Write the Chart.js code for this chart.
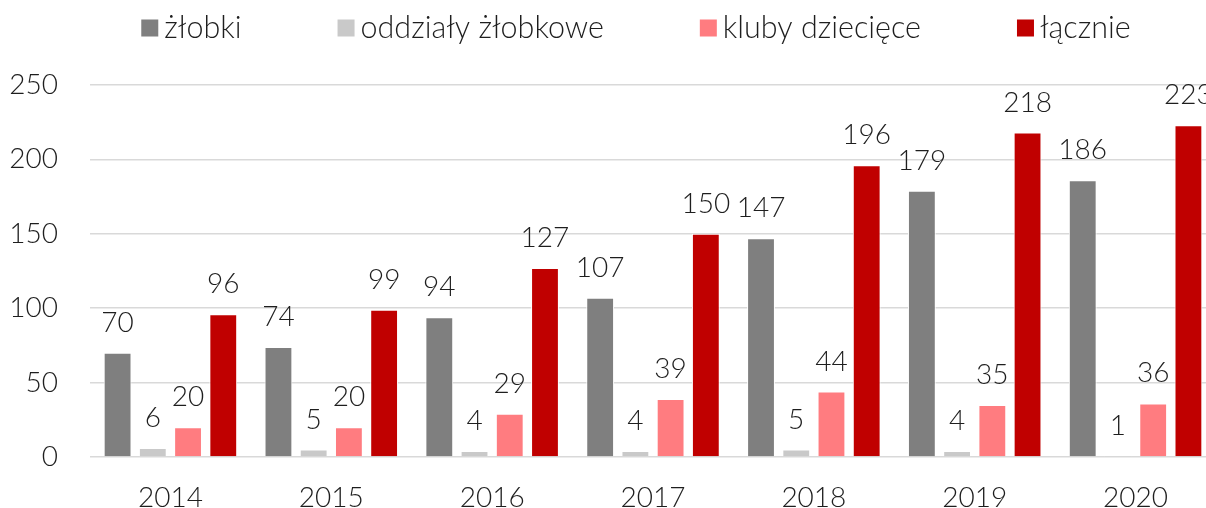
<!DOCTYPE html>
<html>
<head>
<meta charset="utf-8">
<script src="https://cdn.jsdelivr.net/npm/chart.js@4"></script>
<style>
    html, body { margin: 0; padding: 0; background: #fff; overflow: hidden; }
    #wrap { width: 1206px; height: 508px; overflow: hidden; }
</style>
</head>
<body>
<div id="wrap"><canvas id="nurseryChart" width="1216" height="508"></canvas></div>
<script>
const years = ['2014', '2015', '2016', '2017', '2018', '2019', '2020'];
const zlobki = [70, 74, 94, 107, 147, 179, 186];
const oddzialy = [6, 5, 4, 4, 5, 4, 1];
const kluby = [20, 20, 29, 39, 44, 35, 36];
const lacznie = [96, 99, 127, 150, 196, 218, 223];
const seriesNames = ['żłobki', 'oddziały żłobkowe', 'kluby dziecięce', 'łącznie'];
const yTicks = [0, 50, 100, 150, 200, 250];

const colors = ['#7f7f7f', '#c9c9c9', '#ff7c80', '#c00000'];
const fontFamily = 'Lato, "Open Sans", sans-serif';
const textColor = '#1e1e1e';

// labels above each bar
const barLabels = {
    id: 'barLabels',
    afterDatasetsDraw(chart) {
        const ctx = chart.ctx;
        ctx.save();
        ctx.font = '300 28px ' + fontFamily;
        ctx.fillStyle = textColor;
        ctx.textAlign = 'center';
        ctx.textBaseline = 'alphabetic';
        chart.data.datasets.forEach((ds, i) => {
            chart.getDatasetMeta(i).data.forEach((bar, j) => {
                ctx.fillText(String(ds.data[j]), bar.x, bar.y - 21);
            });
        });
        ctx.restore();
    }
};

// legend drawn in the top strip
const topLegend = {
    id: 'topLegend',
    afterDraw(chart) {
        const ctx = chart.ctx;
        ctx.save();
        ctx.font = '300 30.5px ' + fontFamily;
        const box = 17, boxGap = 6, itemGap = 96;
        const widths = chart.data.datasets.map(ds => ctx.measureText(ds.label).width);
        let total = widths.reduce((a, b) => a + b, 0) + widths.length * (box + boxGap) + (widths.length - 1) * itemGap;
        let x = 636 - total / 2;
        const cy = 28;
        chart.data.datasets.forEach((ds, i) => {
            ctx.fillStyle = ds.backgroundColor;
            ctx.fillRect(x, cy - box / 2, box, box);
            ctx.fillStyle = textColor;
            ctx.textBaseline = 'middle';
            ctx.textAlign = 'left';
            ctx.fillText(ds.label, x + box + boxGap, cy);
            x += box + boxGap + widths[i] + itemGap;
        });
        ctx.restore();
    }
};

const seriesData = [zlobki, oddzialy, kluby, lacznie];

const ctx = document.getElementById('nurseryChart').getContext('2d');
new Chart(ctx, {
    type: 'bar',
    data: {
        labels: years,
        datasets: seriesData.map((d, i) => ({
            label: seriesNames[i],
            data: d,
            backgroundColor: colors[i],
            borderColor: '#ffffff',
            borderWidth: 1,
            categoryPercentage: 0.876,
            barPercentage: 0.79
        }))
    },
    options: {
        responsive: false,
        animation: false,
        layout: { padding: { top: 85, left: 0, right: 0, bottom: 0 } },
        plugins: {
            legend: { display: false },
            tooltip: { enabled: false }
        },
        scales: {
            x: {
                grid: { display: false },
                border: { display: false },
                ticks: {
                    color: textColor,
                    font: { family: fontFamily, size: 28, weight: 300 },
                    padding: 16
                },
                afterFit(scale) { scale.height = 51; }
            },
            y: {
                min: 0,
                max: 250,
                afterBuildTicks(scale) { scale.ticks = yTicks.map(v => ({ value: v })); },
                grid: { color: '#d9d9d9', lineWidth: 1.5, drawTicks: false },
                border: { display: false },
                ticks: {
                    color: textColor,
                    font: { family: fontFamily, size: 28, weight: 300 },
                    padding: 32
                },
                afterFit(scale) { scale.width = 90; }
            }
        }
    },
    plugins: [barLabels, topLegend]
});
</script>
</body>
</html>
